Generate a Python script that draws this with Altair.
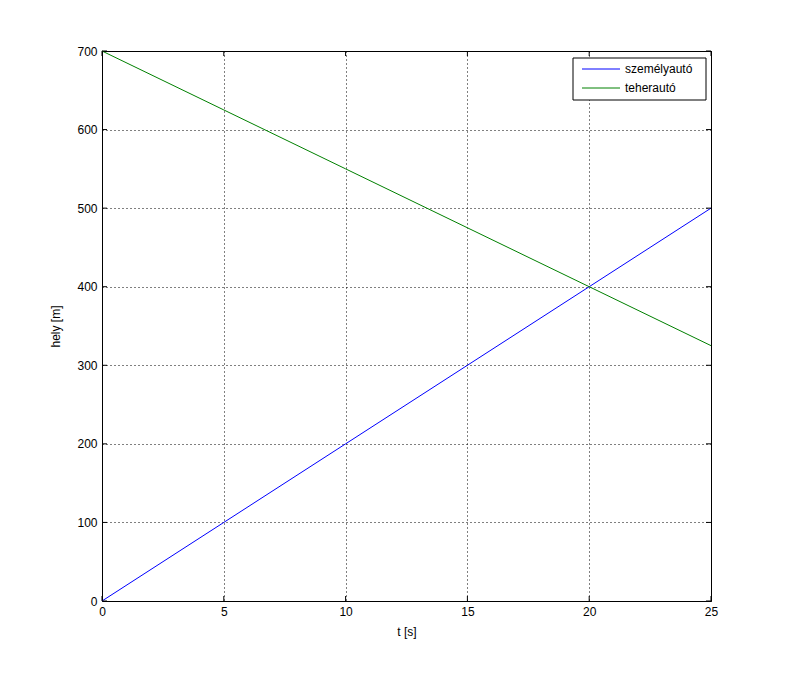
import altair as alt
import pandas as pd

t_values = [0, 5, 10, 15, 20, 25]
szemelyauto = [0, 100, 200, 300, 400, 500]
teherauto = [700, 625, 550, 475, 400, 325]
series_names = ["személyautó", "teherautó"]
series_colors = ["#0000ff", "#008000"]
x_ticks = [0, 5, 10, 15, 20, 25]
y_ticks = [0, 100, 200, 300, 400, 500, 600, 700]

rows = []
for t, a, b in zip(t_values, szemelyauto, teherauto):
    rows.append({"t": t, "hely": a, "jármű": series_names[0]})
    rows.append({"t": t, "hely": b, "jármű": series_names[1]})
df = pd.DataFrame(rows)

W, H = 609, 550
FONT = "Liberation Sans"

xscale = alt.Scale(domain=[0, 25], nice=False)
yscale = alt.Scale(domain=[0, 700], nice=False)
cscale = alt.Scale(domain=series_names, range=series_colors)

lines = alt.Chart(df).mark_line(strokeWidth=1).encode(
    x=alt.X("t:Q", scale=xscale, title="t [s]",
            axis=alt.Axis(values=x_ticks, grid=True, ticks=False, domain=False,
                          labelFlush=False, labelPadding=5, titlePadding=9)),
    y=alt.Y("hely:Q", scale=yscale, title="hely [m]",
            axis=alt.Axis(values=y_ticks, grid=True, ticks=False, domain=False,
                          labelFlush=False, labelPadding=5, titlePadding=14)),
    color=alt.Color("jármű:N", scale=cscale, legend=None),
)

xt = pd.DataFrame({"t": x_ticks})
yt = pd.DataFrame({"hely": y_ticks})

tick_bottom = alt.Chart(xt).mark_rule(color="black", strokeWidth=1).encode(
    x="t:Q", y=alt.value(H - 5), y2=alt.value(H))
tick_top = alt.Chart(xt).mark_rule(color="black", strokeWidth=1).encode(
    x="t:Q", y=alt.value(0), y2=alt.value(5))
tick_left = alt.Chart(yt).mark_rule(color="black", strokeWidth=1).encode(
    y="hely:Q", x=alt.value(0), x2=alt.value(5))
tick_right = alt.Chart(yt).mark_rule(color="black", strokeWidth=1).encode(
    y="hely:Q", x=alt.value(W - 5), x2=alt.value(W))

# manual legend (MATLAB style box)
leg_df = pd.DataFrame({"name": [series_names[0]]})
legend_box = alt.Chart(leg_df).mark_rect(fill="white", stroke="black", strokeWidth=1).encode(
    x=alt.value(471), x2=alt.value(604), y=alt.value(7), y2=alt.value(49))
legend_layers = [legend_box]
for i, name in enumerate(series_names):
    d = pd.DataFrame({"name": [name]})
    yy = 18 + i * 19
    legend_layers.append(
        alt.Chart(d).mark_rule(strokeWidth=1).encode(
            x=alt.value(480), x2=alt.value(518), y=alt.value(yy),
            color=alt.Color("name:N", scale=cscale, legend=None)))
    legend_layers.append(
        alt.Chart(d).mark_text(align="left", baseline="middle", font=FONT,
                               fontSize=12, color="black").encode(
            x=alt.value(523), y=alt.value(yy), text="name:N"))

chart = alt.layer(lines, tick_bottom, tick_top, tick_left, tick_right,
                  *legend_layers).properties(
    width=W, height=H,
    background="white",
    autosize=alt.AutoSizeParams(type="none"),
    padding={"left": 94, "top": 43, "right": 67, "bottom": 67},
).configure_view(stroke="black", strokeWidth=1).configure_axis(
    gridColor="black", gridDash=[1, 3], gridOpacity=1, gridWidth=1,
    labelFont=FONT, labelFontSize=12, labelColor="black",
    titleFont=FONT, titleFontSize=12, titleFontWeight="normal", titleColor="black",
)

chart.save("out.html", embed_options={"renderer": "svg", "actions": False})
